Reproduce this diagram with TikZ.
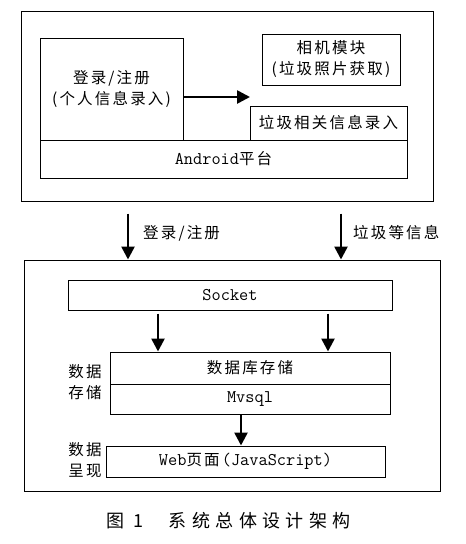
\documentclass[tikz,border=0pt]{standalone}
\usepackage{fontspec}
\setmainfont{Noto Sans CJK SC}[LetterSpace=14]
\setmonofont{Latin Modern Mono}[Scale=1.15]
\usetikzlibrary{arrows.meta}

\tikzset{
  box/.style={draw, line width=1pt, inner sep=0pt, align=center,
    font=\fontsize{15.5}{21}\selectfont},
  flow/.style={-{Triangle[length=13pt,width=13pt]}, line width=2.6pt},
  side/.style={inner sep=0pt, align=center, font=\fontsize{15.5}{21}\selectfont},
}

\begin{document}
\begin{tikzpicture}[x=1pt, y=-1pt]
\useasboundingbox (0, 0) rectangle (466, 544);

% client side
\node[box, minimum width=412pt, minimum height=190pt] (sys) at (227, 106) {};
\node[box, minimum width=143pt, minimum height=102pt] (login) at (111.5, 89)
  {登录/注册\\(个人信息录入)};
\node[box, minimum width=138pt, minimum height=51pt] (cam) at (331, 59.5)
  {相机模块\\(垃圾照片获取)};
\node[box, minimum width=157pt, minimum height=34pt] (info) at (328.5, 123)
  {垃圾相关信息录入};
\node[box, minimum width=367pt, minimum height=38pt] (andr) at (223.5, 159)
  {\texttt{Android}平台};
\coordinate (grab) at (250, 97);
\draw[flow] (login.east |- grab) -- (grab);

% upload
\coordinate (lx) at (128, 0);
\coordinate (rx) at (341, 0);
\node[side, anchor=west] (lbl1) at (143, 233) {登录/注册};
\node[side, anchor=west] (lbl2) at (353, 233) {垃圾等信息};

% server side
\node[box, minimum width=416pt, minimum height=231pt] (srv) at (232, 375.5) {};
\draw[flow, shorten <=12pt] (sys.south -| lx) -- (srv.north -| lx);
\draw[flow, shorten <=12pt] (sys.south -| rx) -- (srv.north -| rx);

\node[box, minimum width=324pt, minimum height=30pt] (sock) at (230, 295)
  {\texttt{Socket}};
\node[box, minimum width=280pt, minimum height=32pt] (db) at (250, 368)
  {数据库存储};
\node[box, minimum width=280pt, minimum height=30pt] (sql) at (250, 399)
  {\texttt{Mvsql}};
\node[box, minimum width=279pt, minimum height=31pt] (web) at (245.5, 461.5)
  {\texttt{Web}页面\texttt{(JavaScript)}};

\coordinate (ax) at (158, 0);
\coordinate (bx) at (328, 0);
\coordinate (cx) at (241, 0);
\draw[flow, shorten <=3pt] (sock.south -| ax) -- (db.north -| ax);
\draw[flow, shorten <=3pt] (sock.south -| bx) -- (db.north -| bx);
\draw[flow] (sql.south -| cx) -- (web.north -| cx);

\node[side] (store) at (85, 382) {数据\\存储};
\node[side] (show) at (85, 460) {数据\\呈现};

% caption
\node[inner sep=0pt, anchor=west, font=\fontsize{18}{20}\selectfont\addfontfeature{LetterSpace=30}] (cap) at (106, 521)
  {图 1\hspace{1.4em}系统总体设计架构};
\end{tikzpicture}
\end{document}
